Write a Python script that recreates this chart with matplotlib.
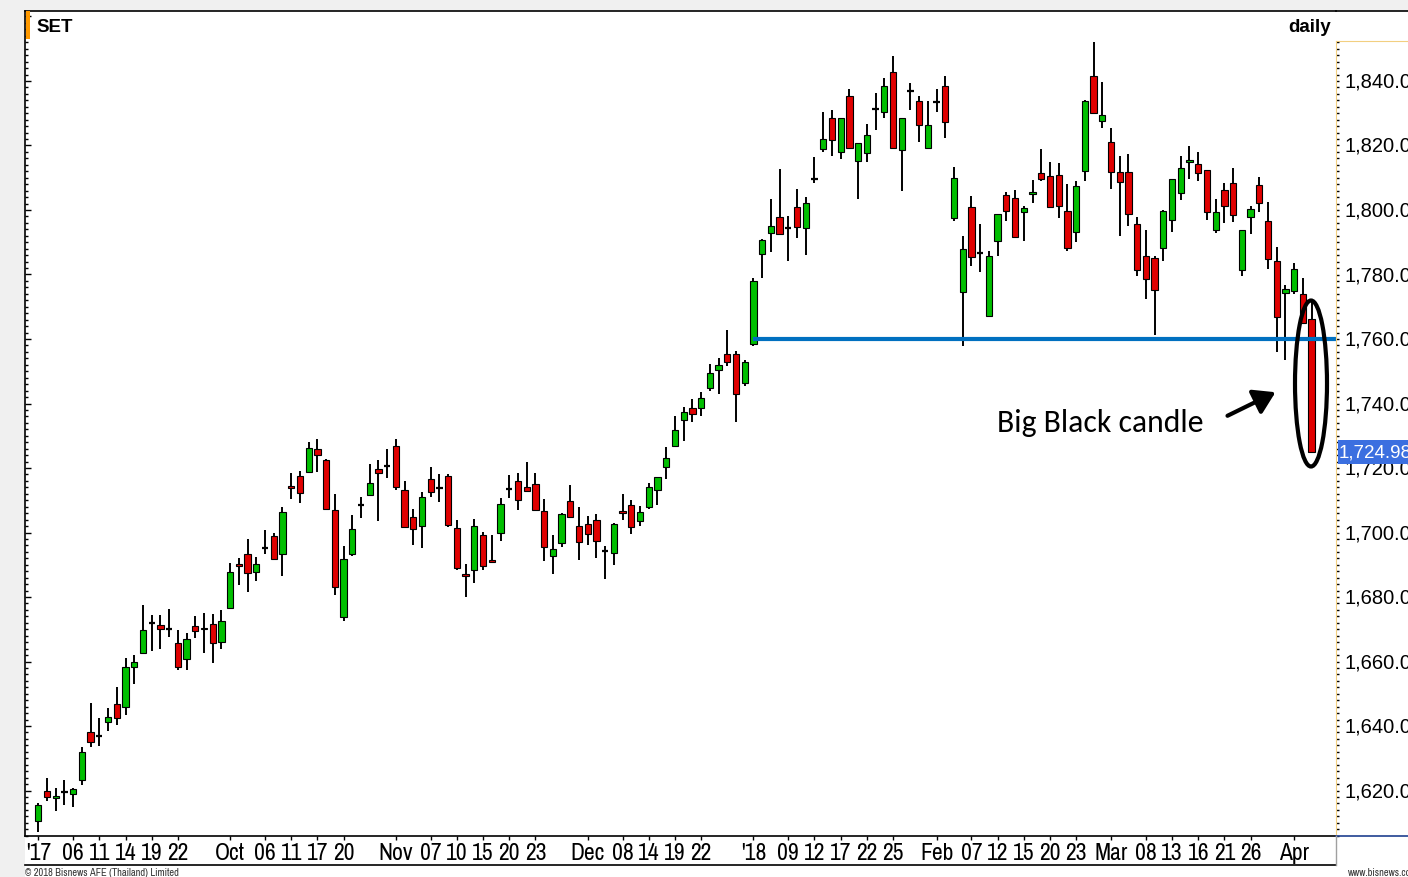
import matplotlib
matplotlib.use('Agg')
import matplotlib.pyplot as plt
from matplotlib.patches import Ellipse, FancyArrowPatch, Rectangle
from matplotlib.lines import Line2D
from matplotlib.transforms import Affine2D
from matplotlib.ticker import MultipleLocator
from matplotlib import font_manager as fm
import numpy as np

W, H = 1408, 878

# ---------------- data (SET index, daily, 31 Aug 2017 - 4 Apr 2018) ----------------
opens = [1610.4, 1619.8, 1617.7, 1619.5, 1618.8, 1623.3, 1638.1, 1636.9, 1641.1, 1646.9,
         1645.8, 1658.2, 1662.5, 1671.8, 1671.4, 1670.1, 1665.6, 1660.7, 1671.1, 1670.5,
         1671.6, 1666.2, 1676.5, 1690.3, 1693.2, 1687.9, 1695.3, 1698.8, 1693.2, 1714.5,
         1717.6, 1718.9, 1725.8, 1722.4, 1706.9, 1673.7, 1693.2, 1708.5, 1711.7, 1719.7,
         1720.5, 1726.9, 1713.2, 1704.9, 1701.9, 1716.5, 1713.8, 1717.4, 1701.4, 1687.1,
         1688.4, 1699.3, 1691.5, 1699.8, 1713.5, 1716.1, 1714.2, 1715.1, 1706.7, 1692.7,
         1696.8, 1709.9, 1701.9, 1702.5, 1703.8, 1694.4, 1693.5, 1706.7, 1708.4, 1703.5,
         1707.8, 1713.1, 1720.3, 1726.9, 1734.9, 1738.6, 1738.7, 1744.7, 1750.3, 1755.5,
         1755.2, 1746.3, 1758.5, 1786.4, 1792.9, 1797.7, 1794.4, 1801.0, 1794.3, 1809.6,
         1818.8, 1828.4, 1817.9, 1835.3, 1815.3, 1817.6, 1831.2, 1830.5, 1842.7, 1818.5,
         1836.8, 1833.9, 1819.3, 1833.4, 1838.6, 1797.4, 1774.5, 1801.0, 1786.7, 1767.2,
         1790.3, 1804.5, 1803.6, 1799.3, 1804.9, 1811.5, 1810.6, 1811.0, 1799.8, 1793.1,
         1812.1, 1841.4, 1827.6, 1821.0, 1811.7, 1811.7, 1795.8, 1785.8, 1785.0, 1788.1,
         1797.0, 1805.2, 1814.8, 1814.2, 1812.3, 1793.7, 1806.2, 1808.3, 1781.3, 1797.8,
         1807.7, 1796.6, 1784.1, 1774.3, 1774.9, 1774.0, 1766.1]
highs = [1616.1, 1623.8, 1620.8, 1623.4, 1620.8, 1633.6, 1647.0, 1642.4, 1645.5, 1652.0,
         1661.0, 1662.1, 1677.6, 1674.4, 1674.4, 1676.2, 1669.7, 1668.8, 1674.1, 1675.0,
         1674.7, 1675.9, 1690.4, 1692.1, 1698.0, 1692.4, 1700.7, 1700.0, 1707.9, 1718.4,
         1719.0, 1728.0, 1729.1, 1722.9, 1711.8, 1695.9, 1705.5, 1711.0, 1721.2, 1722.4,
         1725.9, 1729.1, 1715.9, 1707.3, 1712.5, 1720.4, 1718.0, 1718.0, 1703.8, 1690.1,
         1704.1, 1700.3, 1699.2, 1710.8, 1717.8, 1718.4, 1721.9, 1718.4, 1710.3, 1699.2,
         1706.0, 1714.8, 1707.8, 1705.2, 1705.7, 1695.8, 1702.8, 1711.9, 1710.2, 1708.1,
         1715.4, 1717.1, 1726.5, 1736.1, 1738.8, 1741.4, 1743.7, 1752.1, 1754.2, 1762.9,
         1756.2, 1753.4, 1778.8, 1791.0, 1803.4, 1812.7, 1798.2, 1806.6, 1803.9, 1816.3,
         1830.3, 1831.0, 1828.4, 1837.5, 1820.8, 1826.7, 1836.3, 1840.8, 1847.6, 1828.4,
         1839.3, 1835.2, 1833.7, 1837.5, 1841.5, 1813.2, 1791.8, 1804.2, 1795.6, 1787.4,
         1798.9, 1805.5, 1806.3, 1801.3, 1809.3, 1818.9, 1814.8, 1814.5, 1808.0, 1808.9,
         1834.1, 1852.0, 1839.6, 1825.3, 1816.8, 1817.4, 1797.7, 1793.8, 1785.8, 1800.1,
         1809.5, 1816.8, 1819.9, 1817.9, 1812.3, 1803.4, 1808.4, 1813.1, 1793.7, 1801.1,
         1810.1, 1802.4, 1788.4, 1776.7, 1783.5, 1778.8, 1771.9]
lows = [1607.2, 1616.9, 1613.5, 1615.6, 1614.8, 1621.8, 1633.4, 1633.7, 1638.6, 1640.4,
        1643.3, 1652.9, 1662.2, 1663.4, 1663.8, 1667.7, 1657.5, 1657.4, 1667.4, 1662.5,
        1659.6, 1664.0, 1676.2, 1683.8, 1681.4, 1684.9, 1693.4, 1691.4, 1686.4, 1710.3,
        1709.1, 1718.9, 1718.8, 1707.0, 1680.6, 1672.5, 1692.6, 1704.5, 1711.5, 1703.7,
        1717.0, 1713.3, 1701.4, 1696.1, 1695.2, 1710.9, 1709.6, 1701.7, 1688.3, 1680.1,
        1684.5, 1688.4, 1690.6, 1697.4, 1710.8, 1707.1, 1712.5, 1706.7, 1691.3, 1687.1,
        1695.6, 1704.6, 1691.5, 1696.1, 1692.1, 1685.6, 1690.0, 1703.8, 1699.5, 1702.1,
        1707.2, 1708.5, 1716.6, 1726.4, 1728.4, 1734.3, 1736.0, 1743.9, 1742.9, 1751.7,
        1734.3, 1745.3, 1757.7, 1778.8, 1786.9, 1792.6, 1784.3, 1791.3, 1786.0, 1808.3,
        1818.1, 1816.6, 1815.8, 1819.1, 1803.4, 1815.0, 1824.9, 1828.6, 1819.1, 1806.0,
        1831.0, 1821.0, 1819.3, 1830.3, 1822.4, 1796.7, 1757.9, 1782.5, 1780.9, 1766.7,
        1785.8, 1796.7, 1791.3, 1790.5, 1802.2, 1809.1, 1800.8, 1797.5, 1787.4, 1790.0,
        1809.1, 1829.8, 1825.4, 1806.5, 1792.0, 1795.1, 1779.6, 1772.4, 1761.3, 1784.1,
        1793.3, 1803.2, 1809.6, 1809.1, 1797.0, 1792.9, 1796.0, 1796.4, 1779.4, 1792.6,
        1799.5, 1781.7, 1756.1, 1753.6, 1774.0, 1765.0, 1724.98]
closes = [1615.5, 1618.1, 1618.4, 1619.5, 1620.5, 1631.8, 1635.2, 1636.9, 1642.9, 1642.5,
          1658.2, 1659.7, 1669.7, 1671.8, 1670.2, 1670.1, 1658.4, 1667.1, 1669.4, 1670.0,
          1665.8, 1672.6, 1687.9, 1689.5, 1687.3, 1690.3, 1695.3, 1691.8, 1706.3, 1713.7,
          1712.1, 1726.1, 1724.1, 1707.2, 1683.0, 1691.7, 1701.1, 1708.5, 1715.4, 1718.4,
          1720.5, 1714.2, 1701.6, 1701.1, 1710.9, 1712.5, 1713.8, 1702.4, 1688.9, 1686.6,
          1701.9, 1689.7, 1690.9, 1708.7, 1713.5, 1710.2, 1712.8, 1707.0, 1695.6, 1695.0,
          1705.7, 1704.9, 1697.0, 1699.4, 1697.4, 1694.4, 1702.5, 1706.0, 1701.6, 1706.3,
          1714.2, 1717.1, 1723.0, 1731.7, 1737.5, 1736.6, 1741.6, 1749.5, 1751.8, 1752.8,
          1743.0, 1753.0, 1778.0, 1790.6, 1794.9, 1792.6, 1794.4, 1794.6, 1802.2, 1809.6,
          1822.0, 1821.7, 1828.4, 1819.1, 1820.8, 1823.4, 1831.2, 1838.3, 1819.1, 1828.4,
          1836.8, 1826.4, 1826.4, 1833.4, 1827.2, 1809.8, 1787.9, 1785.3, 1786.7, 1785.8,
          1798.9, 1799.8, 1791.5, 1800.5, 1805.5, 1809.6, 1800.8, 1801.1, 1788.1, 1807.5,
          1833.8, 1830.1, 1829.4, 1811.7, 1808.6, 1798.7, 1781.3, 1778.6, 1775.1, 1799.8,
          1809.5, 1812.9, 1815.6, 1811.5, 1799.5, 1799.3, 1801.1, 1798.4, 1793.7, 1800.3,
          1802.3, 1784.8, 1766.7, 1775.6, 1781.8, 1765.0, 1724.98]

tick_idx = [0, 4, 7, 10, 13, 16, 22, 26, 29, 32, 35, 41, 45, 48, 51, 54, 57, 63, 67, 70,
            73, 76, 82, 86, 89, 92, 95, 98, 103, 107, 110, 113, 116, 119, 123, 127, 130,
            133, 136, 139, 144]
tick_labels = ["'17", "06", "11", "14", "19", "22", "Oct", "06", "11", "17", "20", "Nov",
               "07", "10", "15", "20", "23", "Dec", "08", "14", "19", "22", "'18", "09",
               "12", "17", "22", "25", "Feb", "07", "12", "15", "20", "23", "Mar", "08",
               "13", "16", "21", "26", "Apr"]
price_ticks = [1620, 1640, 1660, 1680, 1700, 1720, 1740, 1760, 1780, 1800, 1820, 1840]
support_level = 1760
support_start = 82
last_close = 1724.98

# ---------------- fonts ----------------
names = {f.name for f in fm.fontManager.ttflist}


def pick(cands, default):
    for cnd in cands:
        if cnd in names:
            return cnd
    return default


narrow = pick(['Liberation Sans Narrow', 'Arial Narrow', 'Archivo Narrow', 'PT Sans Narrow',
               'Roboto Condensed', 'Open Sans Condensed', 'Fira Sans Condensed',
               'IBM Plex Sans Condensed', 'Encode Sans Condensed'], None)
sans = 'Liberation Sans'
anno_font = pick(['Carlito', 'Open Sans'], 'DejaVu Sans')
date_font = narrow if narrow else sans
date_size = 17 if narrow else 13.5

# ---------------- figure ----------------
fig = plt.figure(figsize=(W / 100, H / 100), dpi=100, facecolor='#f0f0f0')
px = Affine2D().scale(1 / W, -1 / H).translate(0, 1) + fig.transFigure

# white working area (behind the axes)
fig.patches.append(Rectangle((25, 12), W - 25, H - 12, transform=px,
                             facecolor='white', edgecolor='none', zorder=-10))

ax = fig.add_axes([25 / W, 1 - 837 / H, 1311 / W, 825 / H])
ax.set_zorder(1)
ax.set_facecolor('white')
ax.set_xlim(-1.525, 148.8)
ax.set_ylim(1605.9, 1861.7)
for s in ['top', 'left', 'bottom']:
    ax.spines[s].set_color('black')
    ax.spines[s].set_linewidth(1.2)
ax.spines['right'].set_visible(False)

n = len(opens)
x = np.arange(n)
o = np.array(opens); h = np.array(highs); l = np.array(lows); c = np.array(closes)
up = c > o
dn = c < o
dj = c == o

ax.vlines(x, l, h, color='black', lw=1.4, zorder=2)
ax.bar(x[up], (c - o)[up], bottom=o[up], width=0.72, color='#00bf00',
       edgecolor='black', linewidth=0.8, zorder=3)
ax.bar(x[dn], (o - c)[dn], bottom=c[dn], width=0.72, color='#e00000',
       edgecolor='black', linewidth=0.8, zorder=3)
ax.hlines(o[dj], x[dj] - 0.36, x[dj] + 0.36, color='black', lw=1.6, zorder=3)

# support line
ax.plot([support_start, 149.3], [support_level, support_level], color='#0070c0',
        lw=3, zorder=4, clip_on=False, solid_capstyle='butt')

# y ticks on the left spine (no labels)
ax.yaxis.set_major_locator(MultipleLocator(20))
ax.yaxis.set_minor_locator(MultipleLocator(2))
ax.tick_params(axis='y', which='major', direction='in', length=4, width=1, labelleft=False)
ax.tick_params(axis='y', which='minor', direction='in', length=2, width=1)

# x ticks
ax.set_xticks(tick_idx)
ax.set_xticklabels(tick_labels, fontfamily=date_font, fontsize=date_size)
ax.tick_params(axis='x', which='major', direction='out', length=3, width=1, pad=1)
for lbl in ax.get_xticklabels():
    if lbl.get_text().startswith("'"):
        lbl.set_fontweight('bold')

# ---------------- right price panel ----------------
axr = fig.add_axes([1336 / W, 1 - 837 / H, (W - 1336) / W, (837 - 42) / H])
axr.set_zorder(2)
axr.set_facecolor('white')
axr.set_xlim(0, 1)
axr.set_ylim(1605.9, 1852.4)
axr.set_xticks([])
axr.spines['left'].set_color('#f2cf80')
axr.spines['top'].set_color('#f2cf80')
axr.spines['right'].set_visible(False)
axr.spines['bottom'].set_color('#1f3f8f')
axr.spines['bottom'].set_linewidth(1.2)
axr.yaxis.set_major_locator(MultipleLocator(20))
axr.yaxis.set_minor_locator(MultipleLocator(2))
axr.tick_params(axis='y', which='both', direction='in', length=2.5, width=1,
                color='black', labelleft=False)
ytr = axr.get_yaxis_transform()
for v in price_ticks:
    axr.text(8 / 72, v, f"{v:,.2f}", transform=ytr, ha='left', va='center',
             fontfamily=sans, fontsize=14.5, color='black', clip_on=False)
axr.add_patch(Rectangle((2 / 72, last_close - 3.6), 1.2, 7.2, transform=ytr,
                        facecolor='#3b6fe0', edgecolor='none', zorder=5, clip_on=False))
axr.text(3 / 72, last_close, f"{last_close:,.2f}", transform=ytr, ha='left',
         va='center', fontfamily=sans, fontsize=13.5, color='white', zorder=6,
         clip_on=False)

# ---------------- frame decorations ----------------
fig.add_artist(Line2D([1336, W], [12, 12], transform=px, color='black', lw=1.2, zorder=5))
fig.add_artist(Line2D([25, 1336], [866, 866], transform=px, color='black', lw=1.2, zorder=5))
fig.add_artist(Line2D([1336, 1336], [837, 866], transform=px, color='#a0a0a0', lw=1, zorder=5))
fig.patches.append(Rectangle((26, 12), 4, 28, transform=px, facecolor='#ff9900',
                             edgecolor='none', zorder=5))

fig.text(36, 27, 'SET', transform=px, ha='left', va='center', fontfamily=sans,
         fontweight='bold', fontsize=13.5, zorder=5)
fig.text(1331, 27, 'daily', transform=px, ha='right', va='center', fontfamily=sans,
         fontweight='bold', fontsize=13.5, zorder=5)
fig.text(25, 873, '\u00a9 2018 Bisnews AFE (Thailand) Limited', transform=px, ha='left',
         va='center', fontfamily=date_font, fontsize=7.5, color='#333333', zorder=5)
fig.text(1348, 873, 'www.bisnews.com', transform=px, ha='left', va='center',
         fontfamily=date_font, fontsize=7.5, color='#333333', zorder=5)

# annotation
anno_size = 22.8 if anno_font == 'Carlito' else 19.7
fig.text(997, 423, 'Big Black candle', transform=px, ha='left', va='center',
         fontfamily=anno_font, fontsize=anno_size, color='black', zorder=6)
fig.patches.append(FancyArrowPatch((1225, 418), (1278, 392), transform=px,
                                   arrowstyle='-|>,head_length=8,head_width=5',
                                   mutation_scale=1.6, color='black', lw=3, zorder=6))
fig.patches.append(Ellipse((1311, 384.5), 32, 166, transform=px, facecolor='none',
                           edgecolor='black', lw=3, zorder=6))

fig.savefig('out.png', dpi=100, facecolor=fig.get_facecolor())
